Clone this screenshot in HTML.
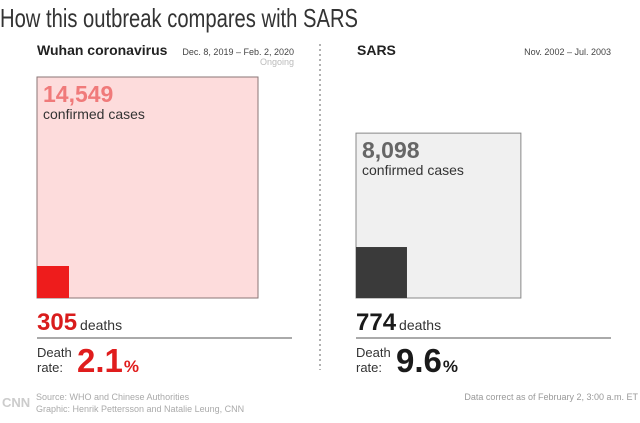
<!DOCTYPE html>
<html><head><meta charset="utf-8"><style>
body{margin:0;width:640px;height:418px;background:#fff;overflow:hidden;font-family:"Liberation Sans",sans-serif}
svg text{font-family:"Liberation Sans",sans-serif}
</style></head><body>
<svg id="c" width="640" height="418">
<text x="0" y="27" font-size="26" fill="#333" textLength="358" lengthAdjust="spacingAndGlyphs">How this outbreak compares with SARS</text>
<line x1="320" y1="44" x2="320" y2="370" stroke="#999" stroke-width="1.5" stroke-dasharray="2,3"/>
<text x="37" y="55" font-size="14" font-weight="bold" fill="#222">Wuhan coronavirus</text>
<text x="294" y="55" font-size="9" fill="#444" text-anchor="end">Dec. 8, 2019 – Feb. 2, 2020</text>
<text x="294" y="65" font-size="9" fill="#bbb" text-anchor="end">Ongoing</text>
<text x="357" y="55" font-size="14" font-weight="bold" fill="#222">SARS</text>
<text x="611" y="55" font-size="9" fill="#444" text-anchor="end">Nov. 2002 – Jul. 2003</text>
<g id="marks"></g>
<text x="2" y="407" font-size="13" font-weight="bold" fill="#ccc">CNN</text>
<text x="36" y="400" font-size="9" fill="#aaa">Source: WHO and Chinese Authorities</text>
<text x="36" y="412" font-size="9" fill="#aaa">Graphic: Henrik Pettersson and Natalie Leung, CNN</text>
<text x="638" y="400" font-size="9" fill="#999" text-anchor="end">Data correct as of February 2, 3:00 a.m. ET</text>
</svg>
<script>
const outbreaks = ["wuhan", "sars"];
const cases = [14549, 8098];
const deaths = [305, 774];
const rateLabels = ["2.1", "9.6"];
const casesLabels = ["14,549", "8,098"];
const deathLabels = ["305", "774"];

const NS = "http://www.w3.org/2000/svg";
const g = document.getElementById("marks");
const maxSide = 221, baseY = 298;
const lefts = [37, 356];
const colors = [{bg:"#fddcdc",border:"#8a7676",num:"#f07a7a",dark:"#ee1c1c",big:"#e01d1d",dv:"#d91c1c"},
                {bg:"#f0f0f0",border:"#888",num:"#666",dark:"#3a3a3a",big:"#1a1a1a",dv:"#1a1a1a"}];
const maxCases = Math.max(...cases);
function side(v){return Math.sqrt(v/maxCases)*maxSide;}
function mk(tag, attrs, text, parent){const e=document.createElementNS(NS,tag);for(const k in attrs)e.setAttribute(k,attrs[k]);if(text!==undefined)e.textContent=text;(parent||g).appendChild(e);return e;}

outbreaks.forEach((o,i)=>{
  const x=lefts[i], c=colors[i];
  const s=side(cases[i]);
  const box=mk("rect",{x:x,y:baseY-s,width:s,height:s,fill:c.bg,stroke:c.border,"stroke-width":1});
  
  
  const d=side(deaths[i]);
  const ds=mk("rect",{x:x,y:baseY-d,width:d,height:d,fill:c.dark});
  
  
  const n=mk("text",{x:x+6,y:baseY-s+25,"font-size":23,"font-weight":"bold",fill:c.num},casesLabels[i]);
  
  
  const l=mk("text",{x:x+6,y:baseY-s+42,"font-size":14,fill:"#333"},"confirmed cases");
  
  
  const dt=mk("text",{x:x,y:330});
  
  
  const dv=mk("tspan",{"font-size":24,"font-weight":"bold",fill:c.dv},deathLabels[i],dt);
  
  
  const dl=mk("tspan",{"font-size":14,fill:"#333",dx:3},"deaths",dt);
  
  
  const ln=mk("line",{x1:x,y1:338,x2:x+255,y2:338,stroke:"#555","stroke-width":1});
  
  
  const t1=mk("text",{x:x,y:357,"font-size":13,fill:"#333"},"Death");
  
  
  const t2=mk("text",{x:x,y:372,"font-size":13,fill:"#333"},"rate:");
  
  
  const rt=mk("text",{x:x+40,y:372,fill:c.big,"font-weight":"bold"});
  
  
  const r=mk("tspan",{"font-size":33},rateLabels[i],rt);
  
  
  const p=mk("tspan",{"font-size":17,dx:1},"%",rt);
  
  
});
</script>
</body></html>
